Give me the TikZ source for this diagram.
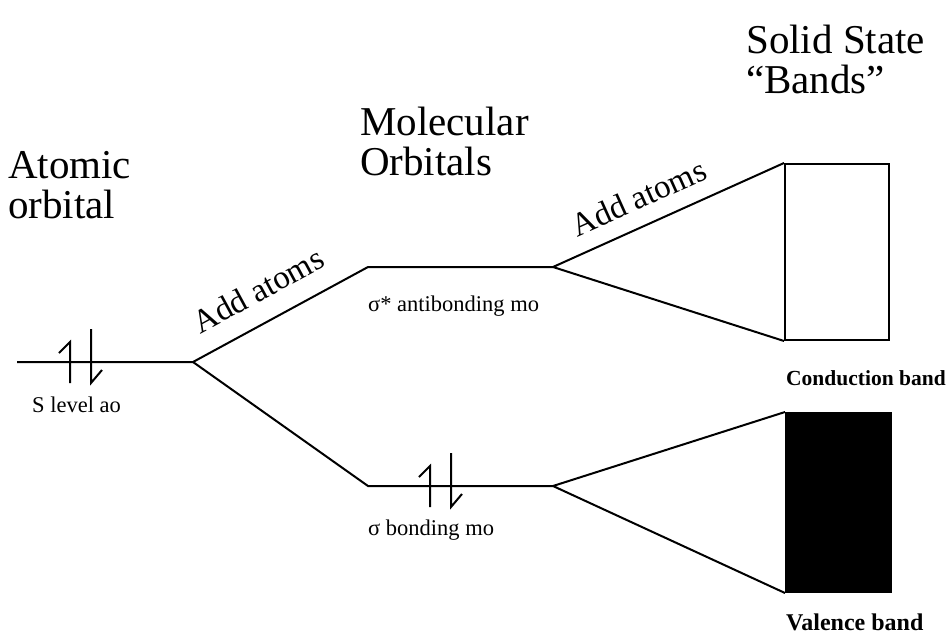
\documentclass[tikz,border=0pt]{standalone}
\usepackage{fontspec}
\setmainfont{Liberation Serif}
\usetikzlibrary{positioning,calc}

\tikzset{
    spinpair/.pic={
        \draw[spin] (-10,21) -- (-10,-20) -- (-21,-9);
        \draw[spin] (11,-33) -- (11,21) -- (22,8);
    }
}

\begin{document}
\begin{tikzpicture}[x=1pt, y=-1pt,
    level/.style={line width=2pt, line join=miter},
    spin/.style={line width=2pt},
    band/.style={rectangle, draw, line width=2pt, inner sep=0pt},
    heading/.style={font=\fontsize{41}{40}\selectfont, align=left, inner sep=0pt},
    addlabel/.style={font=\fontsize{33}{36}\selectfont, sloped},
    molabel/.style={font=\fontsize{22.5}{25}\selectfont, inner sep=0pt},
    bandlabel/.style={font=\fontsize{21.5}{24}\selectfont\bfseries, inner sep=0pt}
]
\useasboundingbox (0,0) rectangle (948,637);

% energy levels
\coordinate (ao) at (17,362);
\coordinate (split) at (193,362);
\coordinate (antil) at (368,267);
\coordinate (antir) at (553,267);
\coordinate (bondl) at (368,486);
\coordinate (bondr) at (553,486);

\node[band, minimum width=104pt, minimum height=176pt] (cb) at (837,252) {};
\node[band, fill=black, minimum width=105pt, minimum height=179pt] (vb) at (838.5,502.5) {};

\draw[level] (ao) -- (split) -- (antil) -- (antir);
\draw[level] (split) -- (bondl) -- (bondr);
\draw[level] (cb.north west) -- (antir) -- (cb.south west);
\draw[level] (vb.north west) -- (bondr) -- (vb.south west);

% electrons
\pic at (80,362) {spinpair};
\pic at (440,486) {spinpair};

% add atoms
\path (split) -- node[addlabel, above=17pt, pos=0.46] (add1) {Add atoms} (antil);
\path (antir) -- node[addlabel, above=13pt, pos=0.42] (add2) {Add atoms} (cb.north west);

% headings
\node[heading, anchor=base west] (atomic) at (8,218) {Atomic\\orbital};
\node[heading, anchor=base west] (molec) at (360,175) {Molecular\\Orbitals};
\node[heading, anchor=base west] (solid) at (746,93) {Solid State\\``Bands''};

% labels
\node[molabel, anchor=base west] (slevel) at (32,412) {S level ao};
\node[molabel, anchor=base west] (anti) at (368,311) {σ* antibonding mo};
\node[molabel, anchor=base west] (bond) at (368,535) {σ bonding mo};
\node[bandlabel, anchor=base west] (cond) at (786,385) {Conduction band};
\node[bandlabel, anchor=base west, font=\fontsize{24}{26}\selectfont\bfseries] (val) at (786,630) {Valence band};
\end{tikzpicture}
\end{document}
